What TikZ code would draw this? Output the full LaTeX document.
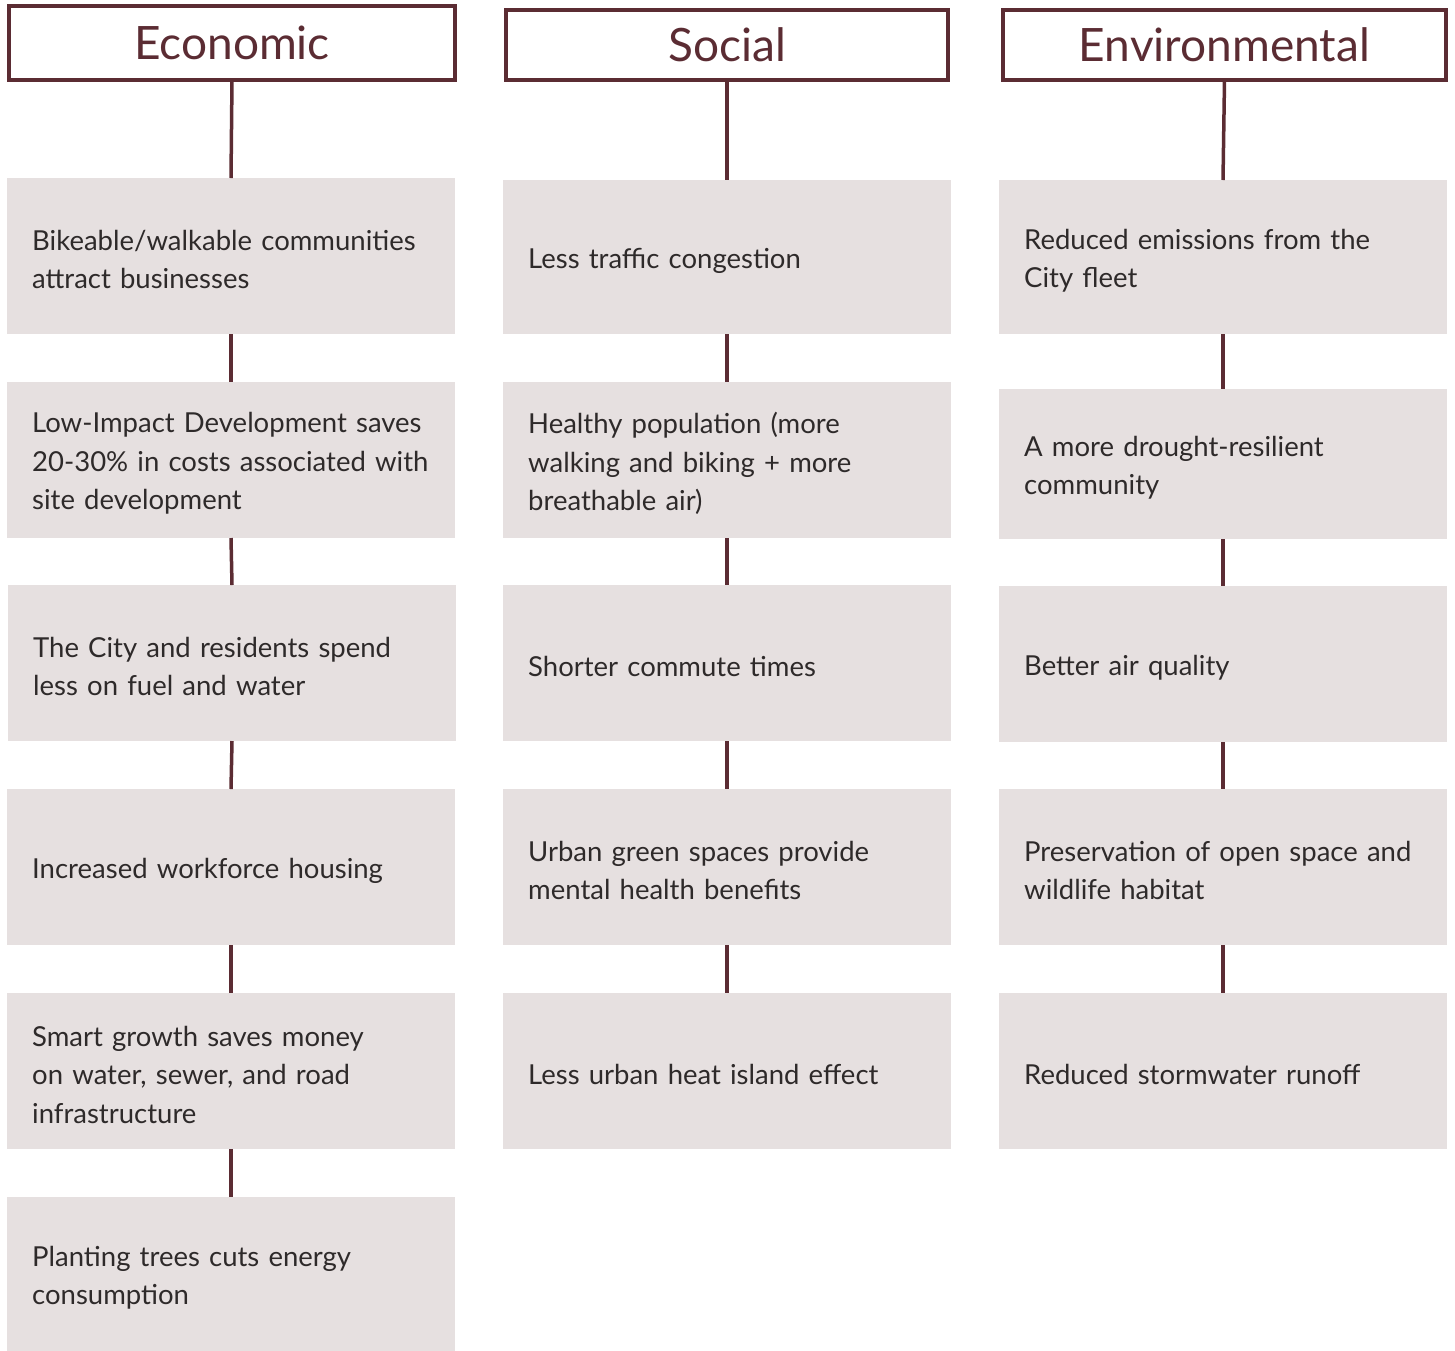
\documentclass[tikz,border=0pt]{standalone}
\usepackage{fontspec}
\setmainfont{Lato}
\definecolor{maroon}{HTML}{5B2C33}
\definecolor{boxfill}{HTML}{E6E0E0}
\definecolor{txt}{HTML}{2E2A2A}
\newcommand\mkitem[5]{%
  \node[item, minimum height=#4pt] (#1) at (#2,#3) {};
  \node[itemtext] (#1t) at (#1.west) {#5};}
\begin{document}
\begin{tikzpicture}[x=1pt,y=-1pt,
  head/.style={draw=maroon, line width=4pt, outer sep=0pt, anchor=north west, inner sep=0pt,
    font=\fontsize{46}{52}\selectfont, text=maroon},
  item/.style={fill=boxfill, anchor=north west, minimum width=448pt, inner sep=0pt, outer sep=0pt},
  itemtext/.style={anchor=west, xshift=25pt, yshift=-3.5pt, inner sep=0pt, text width=410pt, align=left,
    font=\fontsize{27.5}{38.5}\selectfont, text=txt},
  link/.style={draw=maroon, line width=3.5pt}]
\useasboundingbox (0,0) rectangle (1455,1350);
% headers
\node[head, minimum width=446pt, minimum height=74pt] (h1) at (9,6) {Economic};
\node[head, minimum width=442pt, minimum height=70pt] (h2) at (506,10) {Social};
\node[head, minimum width=443pt, minimum height=70pt] (h3) at (1003,10) {Environmental};
% economic
\mkitem{e1}{7}{178}{156}{Bikeable/walkable communities\\attract businesses}
\mkitem{e2}{7}{382}{156}{Low-Impact Development saves\\20-30\% in costs associated with\\site development}
\mkitem{e3}{8}{585}{156}{The City and residents spend\\less on fuel and water}
\mkitem{e4}{7}{789}{156}{Increased workforce housing}
\mkitem{e5}{7}{993}{156}{Smart growth saves money\\on water, sewer, and road\\infrastructure}
\mkitem{e6}{7}{1197}{154}{Planting trees cuts energy\\consumption}
% social
\mkitem{s1}{503}{180}{154}{Less traffic congestion}
\mkitem{s2}{503}{382}{156}{Healthy population (more\\walking and biking + more\\breathable air)}
\mkitem{s3}{503}{585}{156}{Shorter commute times}
\mkitem{s4}{503}{789}{156}{Urban green spaces provide\\mental health benefits}
\mkitem{s5}{503}{993}{156}{Less urban heat island effect}
% environmental
\mkitem{v1}{999}{180}{154}{Reduced emissions from the\\City fleet}
\mkitem{v2}{999}{389}{150}{A more drought-resilient\\community}
\mkitem{v3}{999}{586}{156}{Better air quality}
\mkitem{v4}{999}{789}{156}{Preservation of open space and\\wildlife habitat}
\mkitem{v5}{999}{993}{156}{Reduced stormwater runoff}
% connectors
\draw[link] (h1.south) -- (e1.north);
\draw[link] (e1.south) -- (e2.north);
\draw[link] (e2.south) -- (e3.north);
\draw[link] (e3.south) -- (e4.north);
\draw[link] (e4.south) -- (e5.north);
\draw[link] (e5.south) -- (e6.north);
\draw[link] (h2.south) -- (s1.north);
\draw[link] (s1.south) -- (s2.north);
\draw[link] (s2.south) -- (s3.north);
\draw[link] (s3.south) -- (s4.north);
\draw[link] (s4.south) -- (s5.north);
\draw[link] (h3.south) -- (v1.north);
\draw[link] (v1.south) -- (v2.north);
\draw[link] (v2.south) -- (v3.north);
\draw[link] (v3.south) -- (v4.north);
\draw[link] (v4.south) -- (v5.north);
\end{tikzpicture}
\end{document}
